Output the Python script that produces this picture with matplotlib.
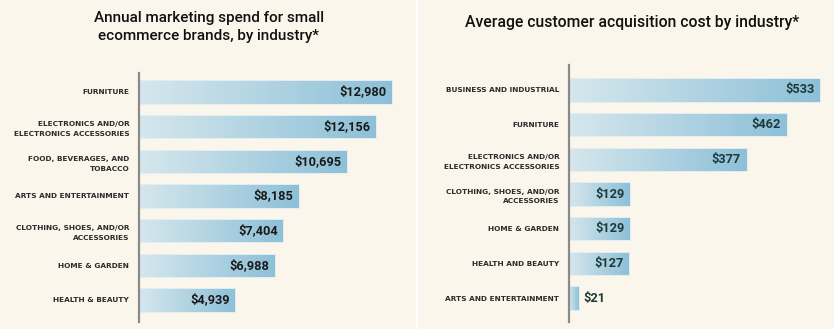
import numpy as np
import matplotlib.pyplot as plt
from matplotlib.colors import LinearSegmentedColormap
from matplotlib.patches import Rectangle
from matplotlib.lines import Line2D

# marketing spend per industry (USD / year)
spend_labels = ["FURNITURE", "ELECTRONICS AND/OR\nELECTRONICS ACCESSORIES",
                "FOOD, BEVERAGES, AND\nTOBACCO", "ARTS AND ENTERTAINMENT",
                "CLOTHING, SHOES, AND/OR\nACCESSORIES", "HOME & GARDEN",
                "HEALTH & BEAUTY"]
spend_values = [12980, 12156, 10695, 8185, 7404, 6988, 4939]

# customer acquisition cost per industry (USD)
cac_labels = ["BUSINESS AND INDUSTRIAL", "FURNITURE",
              "ELECTRONICS AND/OR\nELECTRONICS ACCESSORIES",
              "CLOTHING, SHOES, AND/OR\nACCESSORIES", "HOME & GARDEN",
              "HEALTH AND BEAUTY", "ARTS AND ENTERTAINMENT"]
cac_values = [533, 462, 377, 129, 129, 127, 21]

W, H = 834, 329
bg = "#faf6eb"
fig = plt.figure(figsize=(W / 100, H / 100), dpi=100, facecolor=bg)

bar_cmap = LinearSegmentedColormap.from_list("bar", ["#d6e7ed", "#8dc0d8"])
grad = np.linspace(0, 1, 256).reshape(1, -1)


def px_axes(x0, y0, x1, y1):
    return fig.add_axes([x0 / W, 1 - y1 / H, (x1 - x0) / W, (y1 - y0) / H])


def draw_panel(ax, labels, values, xmax, ylim, value_color):
    ax.set_facecolor("none")
    h = 0.68
    for i, v in enumerate(values):
        box = Rectangle((0, i - h / 2), v, h, facecolor="none",
                        edgecolor="#e3eef2", lw=0.7, zorder=3)
        ax.add_patch(box)
        img = ax.imshow(grad, cmap=bar_cmap, extent=(0, v, i - h / 2, i + h / 2),
                        aspect="auto", interpolation="bilinear", zorder=2)
        img.set_clip_path(box)
        txt = f"${v:,}"
        if v / xmax > 0.12:
            ax.annotate(txt, (v, i), xytext=(-4, 0), textcoords="offset points",
                        ha="right", va="center", fontsize=9.2, fontweight="bold",
                        family="Roboto", color=value_color, zorder=4)
        else:
            ax.annotate(txt, (v, i), xytext=(3, 0), textcoords="offset points",
                        ha="left", va="center", fontsize=9.2, fontweight="bold",
                        family="Roboto", color=value_color, zorder=4)
    ax.set_xlim(0, xmax)
    ax.set_ylim(*ylim)
    ax.set_yticks(range(len(labels)), labels)
    ax.set_xticks([])
    ax.tick_params(axis="y", length=0, pad=7)
    for lab in ax.get_yticklabels():
        lab.set_fontsize(5.3)
        lab.set_fontweight("bold")
        lab.set_color("#2b2b2b")
        lab.set_linespacing(1.75)
    for s in ["top", "right", "bottom"]:
        ax.spines[s].set_visible(False)
    ax.spines["left"].set_color("#8a8a8a")
    ax.spines["left"].set_linewidth(1.6)
    ax.spines["left"].set_zorder(5)


left = px_axes(139, 73, 400, 322)
draw_panel(left, spend_labels, spend_values, 12980 * 261 / 253,
           (6.635, -0.548), "#1a1a1a")

right = px_axes(569, 65, 826, 322)
draw_panel(right, cac_labels, cac_values, 533 * 257 / 251,
           (6.69, -0.72), "#1d3a39")

fig.text(209 / W, 1 - 27 / H, "Annual marketing spend for small\necommerce brands, by industry*",
         ha="center", va="center", fontsize=11, family="Roboto", fontweight="medium",
         color="#111111", linespacing=1.4)
fig.text(632 / W, 1 - 22 / H, "Average customer acquisition cost by industry*",
         ha="center", va="center", fontsize=11.3, family="Roboto", fontweight="medium",
         color="#111111")

# thin white divider between the two panels
fig.add_artist(Line2D([417 / W, 417 / W], [0, 1], color="white", lw=1.5))

fig.savefig("out.png", dpi=100, facecolor=bg)
